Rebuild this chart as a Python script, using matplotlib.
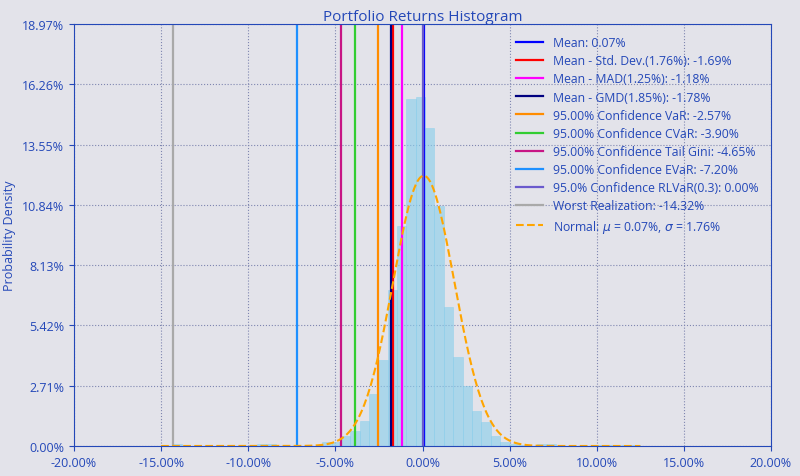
import numpy as np
import matplotlib
matplotlib.use("Agg")
import matplotlib.pyplot as plt
from matplotlib.ticker import FuncFormatter

plt.rcParams['font.family'] = ['Open Sans', 'DejaVu Sans']

# histogram: 50 bins from worst realization, heights in % (probability per bin)
bin_start = -14.32
bin_width = 0.536
heights = [0.1, 0, 0, 0, 0, 0, 0, 0, 0, 0.1,
           0.1, 0, 0, 0, 0, 0, 0.19, 0.16, 0.45, 0.69,
           1.14, 2.34, 3.87, 7.01, 9.90, 15.6, 15.7, 14.28, 10.80, 6.23,
           4.02, 2.71, 1.59, 1.06, 0.46, 0.19, 0.1, 0.05, 0, 0.1,
           0.1, 0, 0, 0, 0, 0.05, 0.05, 0, 0.05, 0.05]

mu, sigma = 0.07, 1.76
labels = ["Mean: 0.07%", "Mean - Std. Dev.(1.76%): -1.69%", "Mean - MAD(1.25%): -1.18%",
          "Mean - GMD(1.85%): -1.78%", "95.00% Confidence VaR: -2.57%",
          "95.00% Confidence CVaR: -3.90%", "95.00% Confidence Tail Gini: -4.65%",
          "95.00% Confidence EVaR: -7.20%", "95.0% Confidence RLVaR(0.3): 0.00%",
          "Worst Realization: -14.32%"]
values = [0.07, -1.69, -1.18, -1.78, -2.57, -3.90, -4.65, -7.20, 0.00, -14.32]
colors = ["blue", "red", "fuchsia", "navy", "darkorange", "limegreen",
          "mediumvioletred", "dodgerblue", "slateblue", "darkgrey"]

txt = "#2448b8"
bg = "#e3e3ea"
fig = plt.figure(figsize=(8, 4.77), dpi=100, facecolor=bg)
ax = fig.add_axes([74/800, 30/477, 697/800, 422/477], facecolor=bg)

edges = bin_start + bin_width*np.arange(len(heights))
ax.bar(edges, heights, width=bin_width, align='edge', color='skyblue', alpha=0.6,
       edgecolor='skyblue', linewidth=0.5)
for v, c, l in zip(values, colors, labels):
    ax.axvline(v, color=c, lw=1.6, label=l)
xs = np.linspace(-15, 12.5, 300)
pdf = np.exp(-0.5*((xs-mu)/sigma)**2)/(sigma*np.sqrt(2*np.pi))*bin_width*100
ax.plot(xs, pdf, '--', color='orange', lw=1.5,
        label=r"Normal: $\mu$ = 0.07%, $\sigma$ = 1.76%")

ax.set_xlim(-20, 20)
ax.set_ylim(0, 18.97)
ax.set_xticks(np.arange(-20, 20.1, 5))
ax.set_yticks(np.linspace(0, 18.97, 8))
ax.xaxis.set_major_formatter(FuncFormatter(lambda v, p: f"{v:.2f}%"))
ax.yaxis.set_major_formatter(FuncFormatter(lambda v, p: f"{v:.2f}%"))
ax.tick_params(colors=txt, labelsize=9, labelcolor=txt)
ax.grid(True, linestyle=':', color='#7f86b0', linewidth=0.8)
ax.set_axisbelow(True)
for s in ax.spines.values():
    s.set_color(txt)
    s.set_linewidth(0.8)
ax.set_title("Portfolio Returns Histogram", color=txt, fontsize=11, pad=3)
ax.set_ylabel("Probability Density", color=txt, fontsize=9, labelpad=4)
leg = ax.legend(loc='upper right', frameon=False, fontsize=8.8, labelcolor=txt,
                handlelength=2.2, borderaxespad=0.6, labelspacing=0.42)
fig.savefig("out.png", dpi=100, facecolor=bg)
